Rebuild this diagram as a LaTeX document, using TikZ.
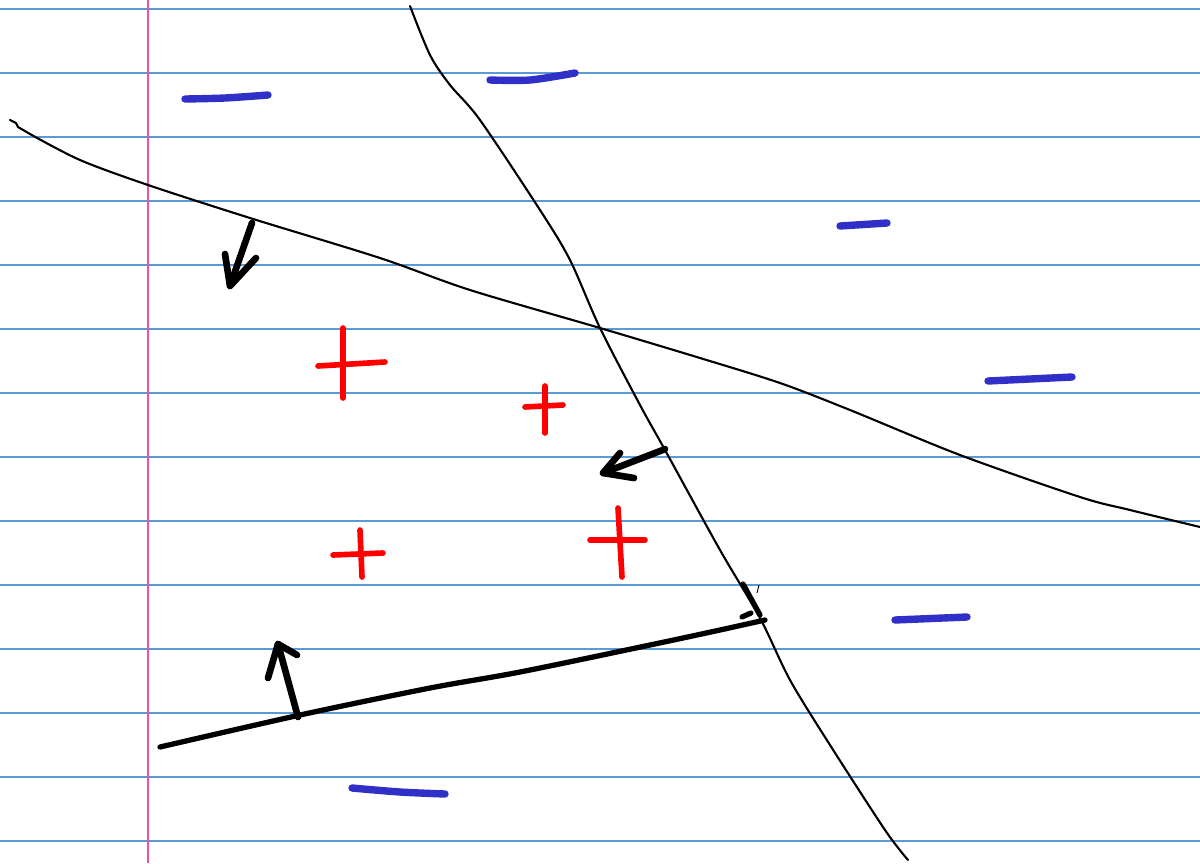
\documentclass[tikz,border=0pt]{standalone}
\usepackage{tikz}
\usetikzlibrary{backgrounds}
\definecolor{rulecol}{HTML}{5B9BD5}
\definecolor{margincol}{HTML}{F050A0}
\definecolor{minuscol}{HTML}{3030C8}

\begin{document}
\begin{tikzpicture}[
    x=0.02cm, y=-0.02cm,
    ruling/.style={rulecol, line width=0.6pt},
    margin/.style={margincol, line width=1.1pt},
    cut/.style={black, line width=1.2pt, line cap=round, line join=round},
    pen/.style={black, line width=3pt, line cap=round, line join=round},
    arrowpen/.style={pen, line width=3.8pt},
    minus/.style={minuscol, line width=4.2pt, line cap=round},
    plus/.style={red, line width=3.2pt, line cap=round},
  ]
  \useasboundingbox[fill=white] (0,0) rectangle (1200,863);

  % ruled paper
  \foreach \k in {0,...,13}
    \draw[ruling] (0,9+64*\k) -- (1200,9+64*\k);
  \draw[margin] (148,0) -- (148,863);

  % the two thin separating lines
  \draw[cut] (10,120) -- (16,123) -- (18,127) -- (30,134)
    plot[smooth, tension=0.5] coordinates {(30,134) (80,160) (148,185)
    (250,218) (380,258) (470,290) (600,328) (700,358) (780,383)
    (850,410) (960,455) (1080,497) (1130,510) (1200,527)};
  \draw[cut] plot[smooth, tension=0.5] coordinates {(410,6) (430,55)
    (450,85) (480,120) (540,210) (570,260) (600,328) (640,405)
    (665,450) (720,550) (760,618) (790,680) (830,745) (885,830) (908,860)};

  % thick line with right-angle mark
  \coordinate (foot) at (765,620);
  \draw[pen] plot[smooth, tension=0.5] coordinates {(160,747) (300,715)
    (430,688) (520,672) (650,645) (720,630) (foot)};
  \draw[pen] (743,584) -- (760,615);
  \draw[pen] (742,617) -- (751,613);
  \draw[black, line width=0.5pt] (757,593) -- (759,585);

  % normal arrows
  \draw[arrowpen] (252,223) -- (230,286);
  \draw[arrowpen] (225,254) -- (230,286) -- (256,258);
  \draw[arrowpen] plot[smooth, tension=0.5] coordinates {(665,449) (655,453) (603,473)};
  \draw[arrowpen] (620,453) -- (603,473) -- (634,478);
  \draw[arrowpen] (298,717) -- (278,644);
  \draw[arrowpen] (268,678) -- (278,644) -- (297,655);

  % negative samples
  \draw[minus] plot[smooth] coordinates {(185,99) (225,98) (268,95)};
  \draw[minus] plot[smooth] coordinates {(490,80) (530,80) (575,73)};
  \draw[minus] (840,226) -- (887,223);
  \draw[minus] (988,381) -- (1072,377);
  \draw[minus] (895,620) -- (967,617);
  \draw[minus] plot[smooth] coordinates {(352,788) (400,792) (445,794)};

  % positive samples
  \draw[plus] (318,366) -- (385,362);
  \draw[plus] (343,328) -- (343,398);
  \draw[plus] (525,407) -- (563,405);
  \draw[plus] (545,386) -- (545,433);
  \draw[plus] (333,555) -- (383,553);
  \draw[plus] (360,530) -- (362,577);
  \draw[plus] (590,540) -- (645,540);
  \draw[plus] (618,508) -- (622,577);
\end{tikzpicture}
\end{document}
